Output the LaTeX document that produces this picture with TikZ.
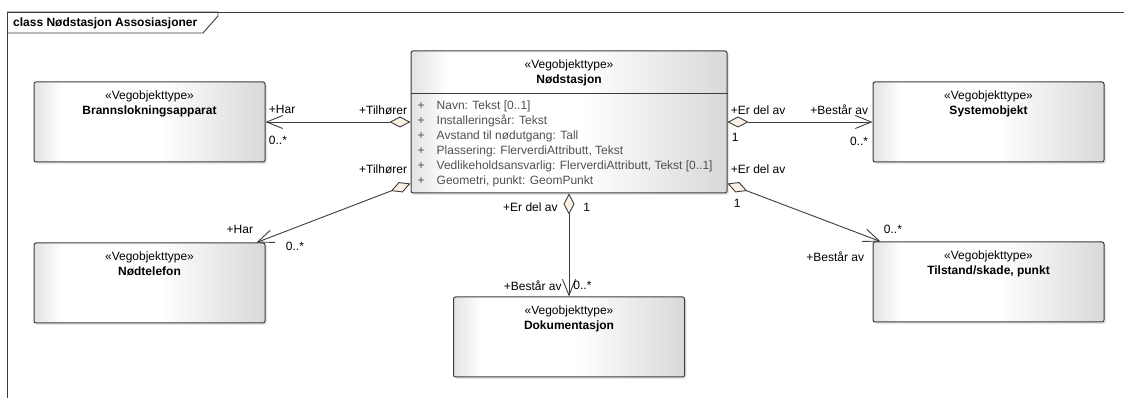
\documentclass[tikz,border=0pt]{standalone}
\usepackage{fontspec}
\setmainfont{Liberation Sans}
\usetikzlibrary{arrows.meta, positioning, calc, shadows}

\definecolor{diafill}{RGB}{252,242,228}
\definecolor{linegray}{RGB}{60,60,60}
\definecolor{attrgray}{RGB}{80,80,80}
\pgfdeclarehorizontalshading{kasse}{100bp}{color(0bp)=(black!11); color(25bp)=(black!11); color(31bp)=(white); color(52bp)=(white); color(75bp)=(black!15); color(100bp)=(black!15)}

\begin{document}
\begin{tikzpicture}[
    x=1pt, y=1pt,
    every node/.style={font=\fontsize{12}{15}\selectfont},
    klasse/.style={rectangle, draw=linegray, line width=1pt, rounded corners=2pt, shading=kasse, minimum width=231pt, minimum height=80pt, drop shadow={shadow xshift=2pt, shadow yshift=-2pt, opacity=0.2}},
    kopf/.style={inner sep=0pt, align=center},
    attr/.style={inner sep=0pt, align=left, text=attrgray},
    rolle/.style={inner sep=0pt},
    assoz/.style={draw=linegray, line width=0.9pt, {Diamond[length=21pt, width=11pt, fill=diafill]}-{Straight Barb[length=16pt, width=13pt]}}
]
\useasboundingbox (0,0) rectangle (1124,398);

% Frame
\draw[linegray, line width=0.9pt] (1124,386) -- (7,386) -- (7,0);
\draw[linegray, line width=0.9pt] (7,386) -- (218,386) -- (218,382) -- (203,365) -- (7,365);
\node[rolle, anchor=west, font=\fontsize{12}{15}\selectfont\bfseries] (titel) at (13,375) {class Nødstasjon Assosiasjoner};

% Main class
\node[klasse, minimum width=316pt, minimum height=142pt] (nod) at (569,276) {};
\node[kopf, below=9.5pt of nod.north] (nodK) {«Vegobjekttype»\\\textbf{Nødstasjon}};
\draw[linegray, line width=1pt] ([yshift=-43pt]nod.north west) -- ([yshift=-43pt]nod.north east);
\node[attr, below right=50.5pt and 7pt of nod.north west] (nodAttr) {%
  \makebox[19pt][l]{+}Navn: Tekst [0..1]\\
  \makebox[19pt][l]{+}Installeringsår: Tekst\\
  \makebox[19pt][l]{+}Avstand til nødutgang: Tall\\
  \makebox[19pt][l]{+}Plassering: FlerverdiAttributt, Tekst\\
  \makebox[19pt][l]{+}Vedlikeholdsansvarlig: FlerverdiAttributt, Tekst [0..1]\\
  \makebox[19pt][l]{+}Geometri, punkt: GeomPunkt};

% Associated classes
\node[klasse, left=145pt of nod] (brann) {};
\node[kopf, below=9.5pt of brann.north] (brannK) {«Vegobjekttype»\\\textbf{Brannslokningsapparat}};

\node[klasse, right=145pt of nod] (sys) {};
\node[kopf, below=9.5pt of sys.north] (sysK) {«Vegobjekttype»\\\textbf{Systemobjekt}};

\node[klasse, below=80pt of brann] (tel) {};
\node[kopf, below=9.5pt of tel.north] (telK) {«Vegobjekttype»\\\textbf{Nødtelefon}};

\node[klasse, below=79pt of sys] (til) {};
\node[kopf, below=9.5pt of til.north] (tilK) {«Vegobjekttype»\\\textbf{Tilstand/skade, punkt}};

\node[klasse, below=103pt of nod] (dok) {};
\node[kopf, below=9.5pt of dok.north] (dokK) {«Vegobjekttype»\\\textbf{Dokumentasjon}};

% Associations
\draw[assoz] (nod.west) -- (brann.east)
  node[rolle, pos=0, anchor=east, xshift=-3pt, yshift=12pt] (tilA) {+Tilhører}
  node[rolle, pos=1, anchor=west, xshift=3pt, yshift=13pt] (harA) {+Har}
  node[rolle, pos=1, anchor=west, xshift=3pt, yshift=-18pt] (mulA) {0..*};

\draw[assoz] ([yshift=10pt]nod.south west) -- ([xshift=-9pt]tel.north east)
  node[rolle, pos=0, anchor=east, xshift=-3pt, yshift=14pt] (tilB) {+Tilhører}
  node[rolle, pos=1, anchor=east, xshift=-3pt, yshift=13pt] (harB) {+Har}
  node[rolle, pos=1, anchor=west, xshift=29pt, yshift=-4pt] (mulB) {0..*};

\draw[assoz] (nod.east) -- (sys.west)
  node[rolle, pos=0, anchor=west, xshift=3pt, yshift=12pt] (delC) {+Er del av}
  node[rolle, pos=0, anchor=west, xshift=4pt, yshift=-15pt] (einC) {1}
  node[rolle, pos=1, anchor=east, xshift=-4pt, yshift=12pt] (bestC) {+Består av}
  node[rolle, pos=1, anchor=east, xshift=-4pt, yshift=-19pt] (mulC) {0..*};

\draw[assoz] ([yshift=10pt]nod.south east) -- ([xshift=8pt]til.north west)
  node[rolle, pos=0, anchor=west, xshift=3pt, yshift=14pt] (delD) {+Er del av}
  node[rolle, pos=0, anchor=west, xshift=6pt, yshift=-20pt] (einD) {1}
  node[rolle, pos=1, anchor=west, xshift=3pt, yshift=12pt] (mulD) {0..*}
  node[rolle, pos=1, anchor=east, xshift=-16pt, yshift=-15pt] (bestD) {+Består av};

\draw[assoz] (nod.south) -- (dok.north)
  node[rolle, pos=0, anchor=east, xshift=-11pt, yshift=-14pt] (delE) {+Er del av}
  node[rolle, pos=0, anchor=west, xshift=14pt, yshift=-14pt] (einE) {1}
  node[rolle, pos=1, anchor=east, xshift=-7pt, yshift=11pt] (bestE) {+Består av}
  node[rolle, pos=1, anchor=west, xshift=4pt, yshift=11pt] (mulE) {0..*};

\end{tikzpicture}
\end{document}
